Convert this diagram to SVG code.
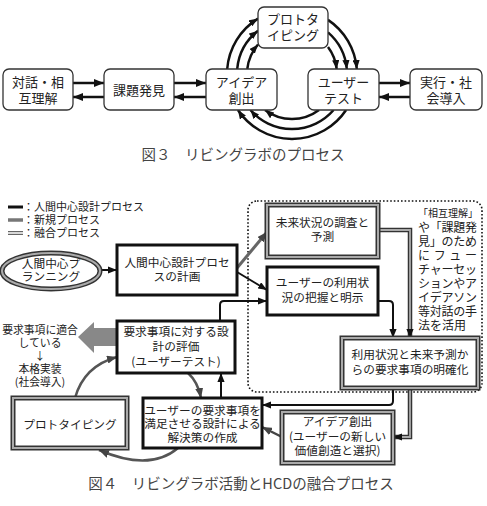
<svg xmlns="http://www.w3.org/2000/svg" width="487" height="506" viewBox="0 0 487 506">
<defs>
<style>
text{font-family:"Noto Sans CJK JP","Noto Sans",sans-serif;fill:#222;}
.t3{font-size:13px;text-anchor:middle;}
.t4{font-size:11.7px;text-anchor:middle;}
.cap{font-size:14.5px;text-anchor:middle;fill:#444;}
.b3{fill:#fff;stroke:#333;stroke-width:1.3;}
.blk{fill:#fff;stroke:#111;stroke-width:3;}
.dblo{fill:#fff;stroke:#333;stroke-width:5;}
.dbli{fill:none;stroke:#aaa;stroke-width:2;}
.c3{fill:none;stroke:#111;stroke-width:2.5;}
.c4{fill:none;stroke:#111;stroke-width:2;}
.cg{fill:none;stroke:#555;stroke-width:2.5;}
.cdo{fill:none;stroke:#333;stroke-width:4.5;}
.cdi{fill:none;stroke:#aaa;stroke-width:1.8;}
</style>
<marker id="ah" viewBox="0 0 10 8" refX="10" refY="4" markerWidth="10" markerHeight="8" markerUnits="userSpaceOnUse" orient="auto"><path d="M0,0 L10,4 L0,8 z" fill="#111"/></marker>
<marker id="ahs" viewBox="0 0 10 8" refX="10" refY="4" markerWidth="9" markerHeight="7.2" markerUnits="userSpaceOnUse" orient="auto"><path d="M0,0 L10,4 L0,8 z" fill="#111"/></marker>
<marker id="ahg" viewBox="0 0 10 8" refX="10" refY="4" markerWidth="10" markerHeight="8" markerUnits="userSpaceOnUse" orient="auto"><path d="M0,0 L10,4 L0,8 z" fill="#444"/></marker>
</defs>
<rect width="487" height="506" fill="#fff"/>

<!-- Figure 3 connectors -->
<g id="connectors-fig3">
<line class="c3" x1="73" y1="83" x2="104" y2="83" marker-end="url(#ah)"/>
<line class="c3" x1="104" y1="97" x2="73" y2="97" marker-end="url(#ah)"/>
<line class="c3" x1="174" y1="83" x2="206" y2="83" marker-end="url(#ah)"/>
<line class="c3" x1="206" y1="97" x2="174" y2="97" marker-end="url(#ah)"/>
<line class="c3" x1="379" y1="83" x2="410" y2="83" marker-end="url(#ah)"/>
<line class="c3" x1="410" y1="97" x2="379" y2="97" marker-end="url(#ah)"/>
<path class="c3" d="M227.2 69 A65 65 0 0 1 258 18.6" marker-end="url(#ahs)"/>
<path class="c3" d="M237.2 69 A55 55 0 0 1 258 30.8" marker-end="url(#ahs)"/>
<path class="c3" d="M247.3 69 A45 45 0 0 1 258 44.5" marker-end="url(#ahs)"/>
<path class="c3" d="M328 19.9 A65 65 0 0 1 356.8 69" marker-end="url(#ahs)"/>
<path class="c3" d="M328 32.4 A55 55 0 0 1 346.8 69" marker-end="url(#ahs)"/>
<path class="c3" d="M328 47 A45 45 0 0 1 336.7 69" marker-end="url(#ahs)"/>
<path class="c3" d="M346.1 110 A65 65 0 0 1 237.9 110" marker-end="url(#ahs)"/>
<path class="c3" d="M333.6 110 A55 55 0 0 1 250.4 110" marker-end="url(#ahs)"/>
<path class="c3" d="M319 110 A45 45 0 0 1 265 110" marker-end="url(#ahs)"/>
</g>

<g id="f3-taiwa"><rect class="b3" x="3" y="69" width="70" height="41" rx="6"/><text class="t3" x="38" y="86.5">対話・相</text><text class="t3" x="38" y="102.5">互理解</text></g>
<g id="f3-kadai"><rect class="b3" x="104" y="69" width="70" height="41" rx="6"/><text class="t3" x="139" y="94.5">課題発見</text></g>
<g id="f3-idea"><rect class="b3" x="206" y="69" width="71" height="41" rx="6"/><text class="t3" x="241.5" y="86.5">アイデア</text><text class="t3" x="241.5" y="102.5">創出</text></g>
<g id="f3-usertest"><rect class="b3" x="308" y="69" width="71" height="41" rx="6"/><text class="t3" x="343.5" y="86.5">ユーザー</text><text class="t3" x="343.5" y="102.5">テスト</text></g>
<g id="f3-jikkou"><rect class="b3" x="410" y="69" width="72" height="41" rx="6"/><text class="t3" x="446" y="86.5">実行・社</text><text class="t3" x="446" y="102.5">会導入</text></g>
<g id="f3-proto"><rect class="b3" x="258" y="7" width="70" height="41" rx="6"/><text class="t3" x="293" y="23.5">プロトタ</text><text class="t3" x="293" y="39.5">イピング</text></g>
<text class="cap" x="243" y="160">図３　リビングラボのプロセス</text>

<!-- Figure 4 legend -->
<g id="legend">
<line x1="8" y1="207" x2="23" y2="207" stroke="#111" stroke-width="3"/>
<line x1="8" y1="220" x2="23" y2="220" stroke="#777" stroke-width="3.5"/>
<line x1="8" y1="233" x2="23" y2="233" stroke="#666" stroke-width="4"/>
<line x1="8" y1="233" x2="23" y2="233" stroke="#fff" stroke-width="1.5"/>
<text x="23" y="211" font-size="11">：人間中心設計プロセス</text>
<text x="23" y="224" font-size="11">：新規プロセス</text>
<text x="23" y="237" font-size="11">：融合プロセス</text>
</g>

<g id="dotted-area"><rect x="248" y="201" width="234" height="191" rx="9" fill="none" stroke="#111" stroke-width="1.6" stroke-dasharray="1.6 2"/></g>

<!-- Figure 4 connectors -->
<g id="connectors-fig4">
<line class="c4" x1="100" y1="270" x2="117" y2="270" marker-end="url(#ahs)"/>
<line x1="237" y1="268" x2="267" y2="232" stroke="#666" stroke-width="3" marker-end="url(#ahg)"/>
<line class="c4" x1="237" y1="272" x2="267" y2="290" marker-end="url(#ahs)"/>
<path class="c4" d="M220 321 V305 Q220 301 224 301 H267" marker-end="url(#ahs)"/>
<polygon points="117,328 94,328 94,322 78,337 94,353 94,346 117,346" fill="#888"/>
<path class="cdo" d="M378 230 H410 V338" marker-end="url(#ahs)"/>
<path class="cdi" d="M378 230 H410 V329"/>
<path class="c4" d="M378 301 H389 Q393 301 393 305 V338" marker-end="url(#ahs)"/>
<path class="c4" d="M393 388 V401 Q393 405 389 405 H262" marker-end="url(#ahs)"/>
<path class="cdo" d="M410 388 V437 H393" marker-end="url(#ahs)"/>
<path class="cdi" d="M410 388 V437 H402"/>
<line x1="282" y1="437" x2="262" y2="427" stroke="#444" stroke-width="2.5" marker-end="url(#ahg)"/>
<line class="c4" x1="221" y1="398" x2="221" y2="373" marker-end="url(#ahs)"/>
<path class="cg" d="M75 398 Q84 366 117 357" marker-end="url(#ahg)"/>
<path class="cg" d="M188 373 Q198 382 201 398" marker-end="url(#ahg)"/>
<path class="cg" d="M178 448 Q150 472 99 450" marker-end="url(#ahg)"/>
</g>

<g id="f4-planning"><ellipse class="dblo" cx="51" cy="271" rx="49" ry="18"/><ellipse class="dbli" cx="51" cy="271" rx="49" ry="18"/><text class="t4" x="51" y="267.5" font-size="11">人間中心プ</text><text class="t4" x="51" y="281" font-size="11">ランニング</text></g>
<g id="f4-keikaku"><rect class="blk" x="117" y="245" width="120" height="50"/><text class="t4" x="177" y="267">人間中心設計プロセ</text><text class="t4" x="177" y="281">スの計画</text></g>
<g id="f4-mirai"><rect class="dblo" x="267" y="205" width="111" height="52"/><rect class="dbli" x="267" y="205" width="111" height="52"/><text class="t4" x="322.5" y="227">未来状況の調査と</text><text class="t4" x="322.5" y="241">予測</text></g>
<g id="f4-riyou"><rect class="blk" x="267" y="267" width="111" height="48"/><text class="t4" x="322.5" y="287">ユーザーの利用状</text><text class="t4" x="322.5" y="302">況の把握と明示</text></g>
<g id="f4-note" font-size="12">
<text x="418" y="217" font-size="10">「相互理解」</text>
<text x="418" y="232" textLength="59" lengthAdjust="spacing">や「課題発</text>
<text x="418" y="246" textLength="59" lengthAdjust="spacing">見」のため</text>
<text x="418" y="260" textLength="59" lengthAdjust="spacing">にフュー</text>
<text x="418" y="274" textLength="59" lengthAdjust="spacing">チャーセッ</text>
<text x="418" y="288" textLength="59" lengthAdjust="spacing">ションやア</text>
<text x="418" y="302" textLength="59" lengthAdjust="spacing">イデアソン</text>
<text x="418" y="316" textLength="59" lengthAdjust="spacing">等対話の手</text>
<text x="418" y="330">法を活用</text>
</g>
<g id="f4-hyouka"><rect class="blk" x="117" y="321" width="118" height="52"/><text class="t4" x="176" y="336">要求事項に対する設</text><text class="t4" x="176" y="351">計の評価</text><text class="t4" x="176" y="366">(ユーザーテスト)</text></g>
<g id="f4-jissou" font-size="10.8">
<text x="40" y="334" text-anchor="middle">要求事項に適合</text>
<text x="40" y="347" text-anchor="middle">している</text>
<text x="40" y="360" text-anchor="middle">↓</text>
<text x="40" y="373" text-anchor="middle">本格実装</text>
<text x="40" y="386" text-anchor="middle">(社会導入)</text>
</g>
<g id="f4-proto"><rect class="dblo" x="13" y="398" width="114" height="50"/><rect class="dbli" x="13" y="398" width="114" height="50"/><text class="t4" x="70" y="429">プロトタイピング</text></g>
<g id="f4-sakusei"><rect class="blk" x="143" y="398" width="119" height="50"/><text class="t4" x="202.5" y="414.5" font-size="11">ユーザーの要求事項を</text><text class="t4" x="202.5" y="428" font-size="11">満足させる設計による</text><text class="t4" x="202.5" y="441.5" font-size="11">解決策の作成</text></g>
<g id="f4-meikaku"><rect class="dblo" x="342" y="338" width="136" height="50"/><rect class="dbli" x="342" y="338" width="136" height="50"/><text class="t4" x="410" y="359">利用状況と未来予測か</text><text class="t4" x="410" y="374">らの要求事項の明確化</text></g>
<g id="f4-idea"><rect class="dblo" x="282" y="412" width="111" height="51"/><rect class="dbli" x="282" y="412" width="111" height="51"/><text class="t4" x="337.5" y="426">アイデア創出</text><text class="t4" x="337.5" y="441">(ユーザーの新しい</text><text class="t4" x="337.5" y="455">価値創造と選択)</text></g>
<text class="cap" x="241" y="489">図４　リビングラボ活動とHCDの融合プロセス</text>
</svg>
